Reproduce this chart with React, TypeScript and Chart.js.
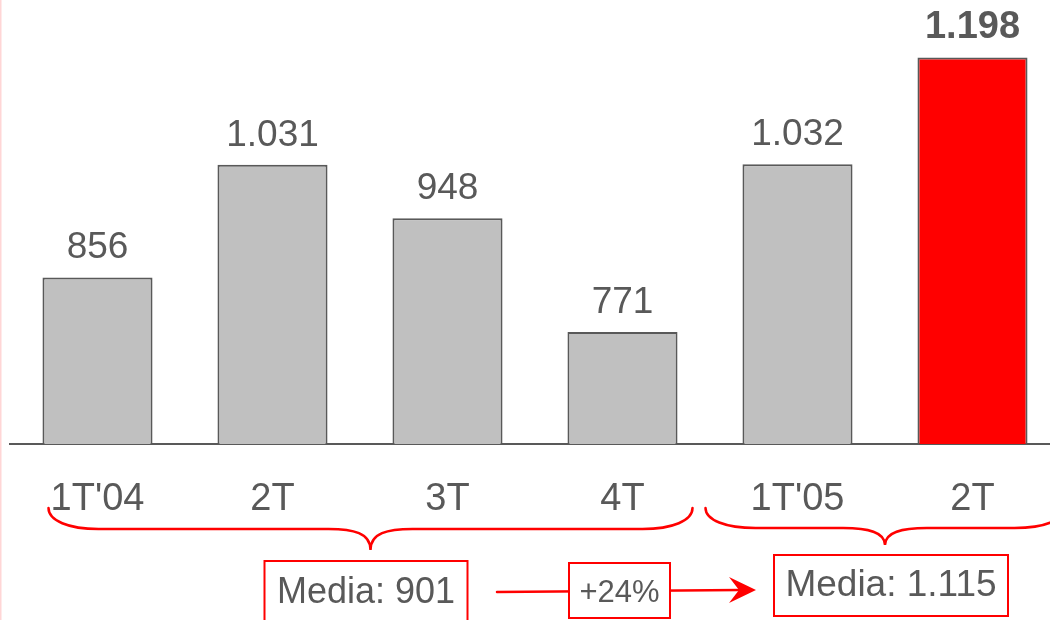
import React, { useEffect, useRef } from "react";
import { Chart, registerables } from "chart.js";

Chart.register(...registerables);

const categories = ["1T'04", "2T", "3T", "4T", "1T'05", "2T"];
const values = [856, 1031, 948, 771, 1032, 1198];
const barColors = ["#c0c0c0", "#c0c0c0", "#c0c0c0", "#c0c0c0", "#c0c0c0", "#ff0000"];
const boldLabel = [false, false, false, false, false, true];
const averageLabels = ["Media: 901", "Media: 1.115"];
const growthLabel = "+24%";

const FONT = "'Liberation Sans', Arial, sans-serif";
const TEXT = "#595959";
const RED = "#ff0000";

const fmt = (v: number) => String(v).replace(/\B(?=(\d{3})+(?!\d))/g, ".");

function drawBrace(ctx: CanvasRenderingContext2D, x1: number, x2: number, xTip: number, yTop: number, yMid: number, yTip: number) {
  const r = 50;
  const r2 = 42;
  ctx.beginPath();
  ctx.moveTo(x1, yTop);
  ctx.bezierCurveTo(x1, yTop + (yMid - yTop) * 0.6, x1 + r * 0.4, yMid, x1 + r, yMid);
  ctx.lineTo(xTip - r2, yMid);
  ctx.bezierCurveTo(xTip - r2 * 0.4, yMid, xTip, yMid + 4, xTip, yTip);
  ctx.bezierCurveTo(xTip, yMid + 4, xTip + r2 * 0.4, yMid, xTip + r2, yMid);
  ctx.lineTo(x2 - r, yMid);
  ctx.bezierCurveTo(x2 - r * 0.4, yMid, x2, yTop + (yMid - yTop) * 0.6, x2, yTop);
  ctx.stroke();
}

function boxText(ctx: CanvasRenderingContext2D, x1: number, y1: number, x2: number, y2: number, text: string, size: number, ty: number) {
  ctx.fillStyle = "#ffffff";
  ctx.fillRect(x1, y1, x2 - x1, y2 - y1);
  ctx.strokeStyle = RED;
  ctx.lineWidth = 2;
  ctx.strokeRect(x1, y1, x2 - x1, y2 - y1);
  ctx.fillStyle = TEXT;
  ctx.font = `${size}px ${FONT}`;
  ctx.textAlign = "center";
  ctx.textBaseline = "middle";
  ctx.fillText(text, (x1 + x2) / 2, ty);
}

const overlayPlugin = {
  id: "overlay",
  afterDatasetsDraw(chart: any) {
    const ctx = chart.ctx as CanvasRenderingContext2D;
    const meta = chart.getDatasetMeta(0);
    ctx.save();
    meta.data.forEach((bar: any, i: number) => {
      ctx.font = `${boldLabel[i] ? "bold 38px" : "37px"} ${FONT}`;
      ctx.fillStyle = TEXT;
      ctx.textAlign = "center";
      ctx.textBaseline = "alphabetic";
      ctx.fillText(fmt(values[i]), bar.x, bar.y - 19);
    });
    ctx.restore();
  },
  afterDraw(chart: any) {
    const ctx = chart.ctx as CanvasRenderingContext2D;
    const xs = chart.scales.x;
    const p = (i: number) => xs.getPixelForValue(i);
    ctx.save();
    // left page edge line
    ctx.fillStyle = "#ffd6d6";
    ctx.fillRect(0, 0, 1.5, chart.height);

    ctx.strokeStyle = RED;
    ctx.lineWidth = 2.5;
    ctx.lineCap = "round";
    const b1l = p(0) - 49;
    const b1r = p(3) + 70;
    drawBrace(ctx, b1l, b1r, (b1l + b1r) / 2, 508, 529, 550);
    const b2tip = (p(4) + p(5)) / 2;
    const b2l = p(4) - 92;
    drawBrace(ctx, b2l, 2 * b2tip - b2l, b2tip, 508, 528, 545);

    // arrow
    ctx.strokeStyle = RED;
    ctx.lineWidth = 2.5;
    ctx.beginPath();
    ctx.moveTo(497, 592);
    ctx.lineTo(740, 590);
    ctx.stroke();
    ctx.fillStyle = RED;
    ctx.beginPath();
    ctx.moveTo(756, 590);
    ctx.lineTo(729, 577);
    ctx.lineTo(739, 590);
    ctx.lineTo(729, 603);
    ctx.closePath();
    ctx.fill();

    const c1 = (b1l + b1r) / 2;
    boxText(ctx, c1 - 106, 561, c1 + 97, 625, averageLabels[0], 36, 593);
    boxText(ctx, 569, 563, 670, 618, growthLabel, 31, 593);
    boxText(ctx, b2tip - 111, 555, b2tip + 123, 616, averageLabels[1], 37, 586);
    ctx.restore();
  },
};

export default function App() {
  const ref = useRef<HTMLCanvasElement | null>(null);
  useEffect(() => {
    if (!ref.current) return;
    const chart = new Chart(ref.current, {
      type: "bar",
      data: {
        labels: categories,
        datasets: [
          {
            data: values,
            backgroundColor: barColors,
            borderColor: "#595959",
            borderWidth: 2,
            categoryPercentage: 1,
            barPercentage: 0.629,
          },
        ],
      },
      options: {
        animation: false,
        responsive: false,
        devicePixelRatio: 1,
        layout: { padding: { left: 10, right: 10, top: 24, bottom: 0 } },
        plugins: { legend: { display: false }, tooltip: { enabled: false } },
        scales: {
          y: { display: false, min: 597, max: 1250 },
          x: {
            afterFit: (scale: any) => {
              scale.height = 176;
            },
            grid: { display: false, drawTicks: false },
            border: { display: true, color: "#595959", width: 2 },
            ticks: {
              color: TEXT,
              font: { family: FONT, size: 38 },
              padding: 33,
              maxRotation: 0,
              autoSkip: false,
            },
          },
        },
      },
      plugins: [overlayPlugin],
    });
    return () => chart.destroy();
  }, []);
  return (
    <div style={{ position: "fixed", left: 0, top: 0, width: 1050, height: 620, overflow: "hidden", background: "#fff" }}>
      <canvas ref={ref} width={1070} height={620} style={{ display: "block" }} />
    </div>
  );
}
